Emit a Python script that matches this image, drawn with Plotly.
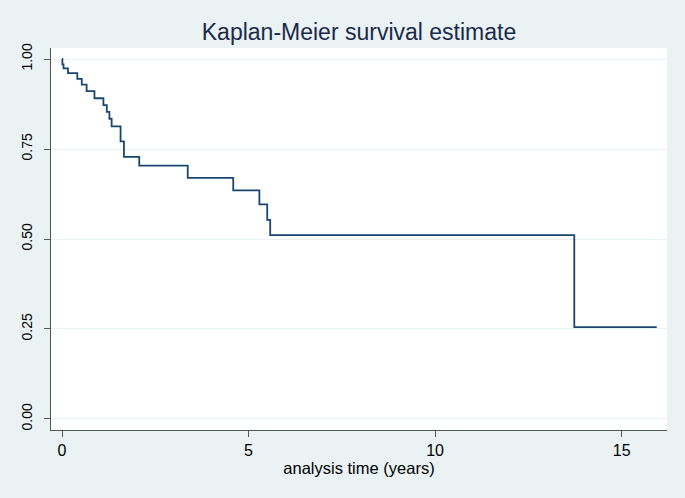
import plotly.graph_objects as go

# Kaplan-Meier estimate (step function, value holds after each time)
times = [0, 0.01, 0.04, 0.16, 0.41, 0.53, 0.66, 0.87, 1.11, 1.20, 1.27, 1.33,
         1.57, 1.66, 2.07, 3.37, 4.59, 5.29, 5.50, 5.58, 13.73, 15.94]
survival = [1.0, 0.985, 0.974, 0.961, 0.945, 0.929, 0.911, 0.891, 0.872, 0.853,
            0.834, 0.813, 0.771, 0.728, 0.704, 0.670, 0.635, 0.596, 0.553, 0.511,
            0.255, 0.255]

x_ticks = [0, 5, 10, 15]
y_ticks = [0.0, 0.25, 0.5, 0.75, 1.0]
y_tick_labels = ["0.00", "0.25", "0.50", "0.75", "1.00"]

BG = "#EAF2F3"
FONT = "Liberation Sans, Arial, Helvetica, sans-serif"

fig = go.Figure()
fig.add_trace(go.Scatter(
    x=times, y=survival, mode="lines", line_shape="hv",
    line=dict(color="#1A476F", width=1.8),
    showlegend=False, hoverinfo="x+y",
))

fig.update_layout(
    width=685, height=498,
    paper_bgcolor=BG, plot_bgcolor="white",
    margin=dict(l=51, r=18, t=48, b=68, autoexpand=False),
    font=dict(family=FONT, color="#000000"),
    title=dict(
        text="Kaplan-Meier survival estimate",
        x=0.5, xref="paper", xanchor="center",
        y=1 - 32 / 498, yref="container", yanchor="middle",
        font=dict(family=FONT, size=23, color="#1A2A4C"),
        automargin=False,
    ),
    xaxis=dict(
        range=[-0.295, 16.215],
        tickmode="array", tickvals=x_ticks, ticktext=[str(v) for v in x_ticks],
        ticks="outside", ticklen=6, tickwidth=1, tickcolor="#555555",
        showline=True, linecolor="#555555", linewidth=1,
        showgrid=False, zeroline=False, automargin=False,
        tickfont=dict(size=16, color="#000000"),
        title=dict(text="analysis time (years)", font=dict(size=16.5, color="#000000"),
                   standoff=4),
    ),
    yaxis=dict(
        range=[-0.0306, 1.0306],
        tickmode="array", tickvals=y_ticks, ticktext=y_tick_labels,
        ticks="outside", ticklen=6, tickwidth=1, tickcolor="#555555",
        tickangle=-90,
        showline=True, linecolor="#555555", linewidth=1,
        showgrid=True, gridcolor=BG, gridwidth=1,
        zeroline=False, automargin=False,
        tickfont=dict(size=14, color="#000000"),
        ticklabelstandoff=6,
    ),
)

fig.write_html("out.html", config={"displayModeBar": False},
               post_script="document.body.style.margin='0';")
